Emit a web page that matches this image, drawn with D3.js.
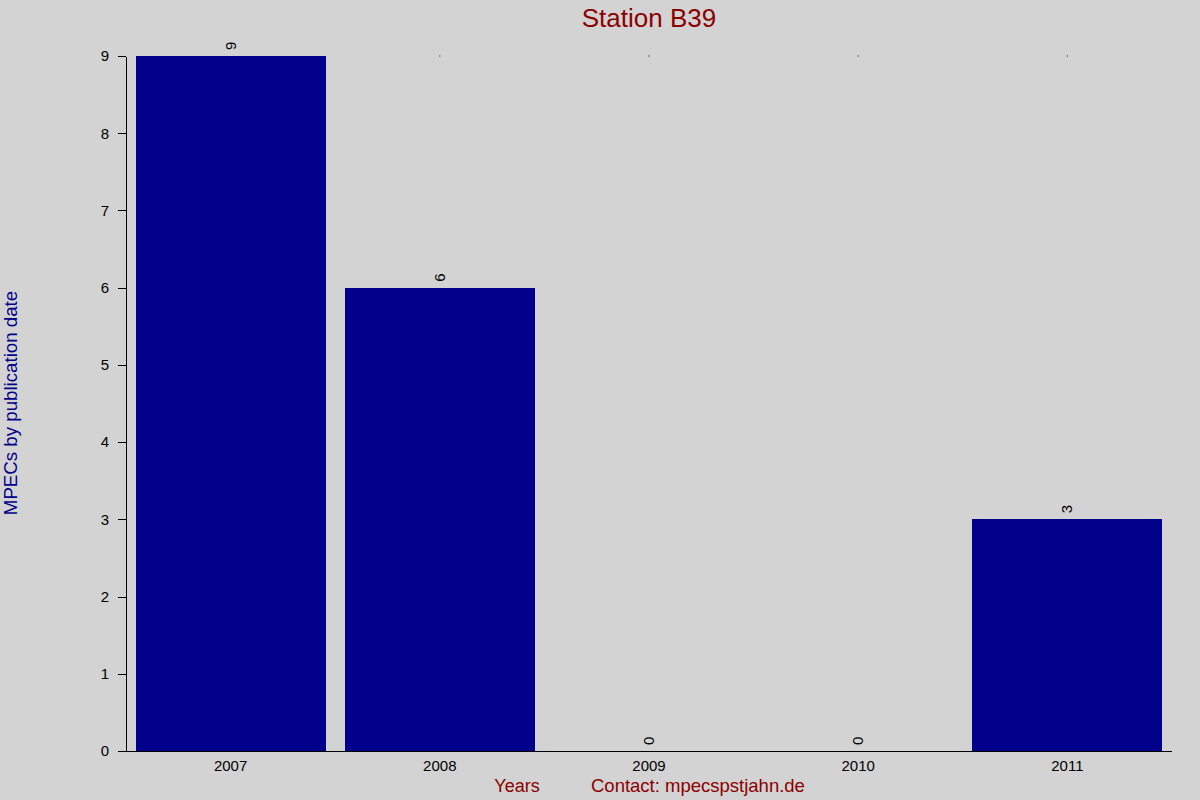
<!DOCTYPE html>
<html>
<head>
<meta charset="utf-8">
<script src="https://cdn.jsdelivr.net/npm/d3@7"></script>
<style>
  body { margin: 0; background: #d3d3d3; }
  svg { display: block; font-family: Arial, "Liberation Sans", sans-serif; }
</style>
</head>
<body>
<div id="chart"></div>
<script>
// Data
let years = ["2007", "2008", "2009", "2010", "2011"];
let counts = [9, 6, 0, 0, 3];
let yTicks = [0, 1, 2, 3, 4, 5, 6, 7, 8, 9];

// Sizes
let svgWidth = 1200;
let svgHeight = 800;
let margin = { top: 56, right: 28, bottom: 49, left: 126 };
let width = svgWidth - margin.left - margin.right;
let height = svgHeight - margin.top - margin.bottom;

let svg = d3.select("#chart")
    .append("svg")
    .attr("width", svgWidth)
    .attr("height", svgHeight);

svg.append("rect")
    .attr("width", svgWidth)
    .attr("height", svgHeight)
    .attr("fill", "#d3d3d3");

let chartGroup = svg.append("g")
    .attr("transform", `translate(${margin.left}, ${margin.top})`);

// Scales
let xScale = d3.scaleBand()
    .domain(years)
    .range([0, width])
    .paddingInner(0.092)
    .paddingOuter(0.046);

let yScale = d3.scaleLinear()
    .domain([0, 9])
    .range([height, 0]);

// Bars
chartGroup.selectAll("rect.bar")
    .data(years)
    .enter()
    .append("rect")
    .attr("class", "bar")
    .attr("x", d => xScale(d))
    .attr("y", (d, i) => yScale(counts[i]))
    .attr("width", xScale.bandwidth())
    .attr("height", (d, i) => height - yScale(counts[i]))
    .attr("fill", "#00008b")
    .attr("shape-rendering", "crispEdges");

// small dots at the top for bars below the max
chartGroup.selectAll("rect.dot")
    .data(years.filter((d, i) => counts[i] < 9))
    .enter()
    .append("rect")
    .attr("class", "dot")
    .attr("x", d => xScale(d) + xScale.bandwidth() / 2 - 0.5)
    .attr("y", yScale(9) - 0.5)
    .attr("width", 1)
    .attr("height", 1)
    .attr("fill", "#000");

// Value labels (rotated)
chartGroup.selectAll("text.val")
    .data(years)
    .enter()
    .append("text")
    .attr("class", "val")
    .attr("transform", (d, i) => `translate(${xScale(d) + xScale.bandwidth() / 2 + 5}, ${yScale(counts[i]) - 6}) rotate(-90)`)
    .attr("text-anchor", "start")
    .attr("font-size", 15)
    .attr("fill", "#000")
    .text((d, i) => counts[i]);

// Y axis
let leftAxis = d3.axisLeft(yScale)
    .tickValues(yTicks)
    .tickSize(8)
    .tickPadding(9)
    .tickSizeOuter(0);

let yAxis = chartGroup.append("g").call(leftAxis);
yAxis.attr("font-size", 15).attr("font-family", "Arial, 'Liberation Sans', sans-serif");
yAxis.selectAll("text").attr("fill", "#000");
yAxis.selectAll("line").attr("stroke", "#000").attr("shape-rendering", "crispEdges");
yAxis.select(".domain").attr("stroke", "#000").attr("shape-rendering", "crispEdges");

// X axis (no tick marks)
let bottomAxis = d3.axisBottom(xScale)
    .tickSize(0)
    .tickPadding(9)
    .tickSizeOuter(0);

let xAxis = chartGroup.append("g")
    .attr("transform", `translate(0, ${height})`)
    .call(bottomAxis);
xAxis.attr("font-size", 15).attr("font-family", "Arial, 'Liberation Sans', sans-serif");
xAxis.select(".domain").remove();
xAxis.selectAll("text").attr("fill", "#000");
xAxis.append("line")
    .attr("x1", -8)
    .attr("x2", width)
    .attr("stroke", "#000")
    .attr("shape-rendering", "crispEdges");

// Title
svg.append("text")
    .attr("x", 649)
    .attr("y", 27)
    .attr("text-anchor", "middle")
    .attr("font-size", 26)
    .attr("fill", "#8b0000")
    .text("Station B39");

// Axis titles
svg.append("text")
    .attr("x", 517)
    .attr("y", 792)
    .attr("text-anchor", "middle")
    .attr("font-size", 18)
    .attr("fill", "#8b0000")
    .text("Years");

svg.append("text")
    .attr("x", 591)
    .attr("y", 792)
    .attr("text-anchor", "start")
    .attr("font-size", 18.5)
    .attr("fill", "#8b0000")
    .text("Contact: mpecspstjahn.de");

svg.append("text")
    .attr("transform", "translate(17, 403) rotate(-90)")
    .attr("text-anchor", "middle")
    .attr("font-size", 18.7)
    .attr("fill", "#00008b")
    .text("MPECs by publication date");
</script>
</body>
</html>
